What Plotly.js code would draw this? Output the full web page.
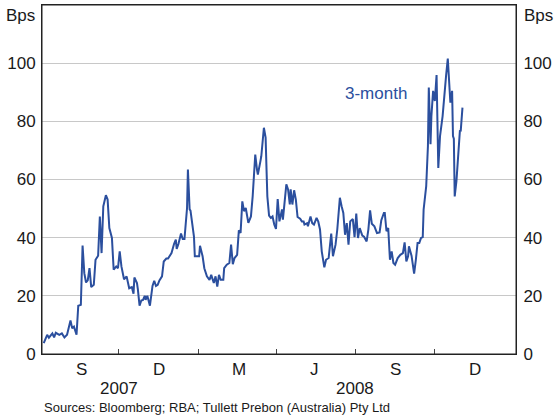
<!DOCTYPE html>
<html>
<head>
<meta charset="utf-8">
<script src="https://cdn.plot.ly/plotly-3.0.1.min.js"></script>
<style>html,body{margin:0;padding:0;background:#fff;}#chart{width:558px;height:418px;}</style>
</head>
<body>
<div id="chart"></div>
<script>
// 3-month spread, basis points
var dates = [
"2007-07-06","2007-07-10","2007-07-12","2007-07-16","2007-07-18","2007-07-20","2007-07-24","2007-07-27","2007-07-30","2007-08-02",
"2007-08-06","2007-08-08","2007-08-10","2007-08-13","2007-08-15","2007-08-18","2007-08-20","2007-08-22","2007-08-24","2007-08-26",
"2007-08-28","2007-08-30","2007-09-02","2007-09-04","2007-09-07","2007-09-09","2007-09-11","2007-09-13","2007-09-16","2007-09-18",
"2007-09-20","2007-09-23","2007-09-25","2007-09-28","2007-09-30","2007-10-02","2007-10-04","2007-10-07","2007-10-10","2007-10-13",
"2007-10-16","2007-10-18","2007-10-19","2007-10-22","2007-10-23","2007-10-25","2007-10-27","2007-10-29","2007-10-31","2007-11-01",
"2007-11-03","2007-11-06","2007-11-09","2007-11-11","2007-11-13","2007-11-15","2007-11-17","2007-11-20","2007-11-22","2007-11-25",
"2007-11-27","2007-11-29","2007-12-01","2007-12-04","2007-12-06","2007-12-07","2007-12-09","2007-12-12","2007-12-14","2007-12-16",
"2007-12-18","2007-12-19","2007-12-20","2007-12-22","2007-12-23","2007-12-25","2007-12-27","2007-12-28","2007-12-30","2008-01-02",
"2008-01-03","2008-01-06","2008-01-08","2008-01-11","2008-01-14","2008-01-16","2008-01-19","2008-01-21","2008-01-23","2008-01-25",
"2008-01-27","2008-01-30","2008-01-31","2008-02-03","2008-02-06","2008-02-08","2008-02-10","2008-02-12","2008-02-15","2008-02-17",
"2008-02-19","2008-02-21","2008-02-23","2008-02-25","2008-02-28","2008-03-02","2008-03-04","2008-03-07","2008-03-09","2008-03-10",
"2008-03-13","2008-03-14","2008-03-17","2008-03-19","2008-03-20","2008-03-21","2008-03-23","2008-03-25","2008-03-27","2008-03-29",
"2008-03-31","2008-04-02","2008-04-04","2008-04-07","2008-04-08","2008-04-12","2008-04-14","2008-04-16","2008-04-17","2008-04-19",
"2008-04-21","2008-04-23","2008-04-25","2008-04-28","2008-04-30","2008-05-02","2008-05-03","2008-05-06","2008-05-07","2008-05-10",
"2008-05-12","2008-05-14","2008-05-17","2008-05-19","2008-05-21","2008-05-23","2008-05-26","2008-05-28","2008-05-31","2008-06-03",
"2008-06-05","2008-06-08","2008-06-10","2008-06-13","2008-06-15","2008-06-17","2008-06-19","2008-06-21","2008-06-23","2008-06-25",
"2008-06-28","2008-06-30","2008-07-02","2008-07-04","2008-07-06","2008-07-09","2008-07-11","2008-07-14","2008-07-16","2008-07-18",
"2008-07-20","2008-07-23","2008-07-26","2008-07-29","2008-07-31","2008-08-03","2008-08-04","2008-08-06","2008-08-08","2008-08-10",
"2008-08-12","2008-08-14","2008-08-16","2008-08-19","2008-08-22","2008-08-25","2008-08-27","2008-08-29","2008-08-31","2008-09-01",
"2008-09-04","2008-09-07","2008-09-09","2008-09-11","2008-09-13","2008-09-15","2008-09-17","2008-09-18","2008-09-21","2008-09-23",
"2008-09-24","2008-09-26","2008-09-27","2008-09-29","2008-10-01","2008-10-03","2008-10-05","2008-10-07","2008-10-10","2008-10-12",
"2008-10-14","2008-10-16","2008-10-18","2008-10-19","2008-10-21","2008-10-22","2008-10-23","2008-10-24","2008-10-26","2008-10-28",
"2008-10-30","2008-10-31","2008-11-02"
];
var spread = [
3.7,6.6,5.6,7.1,5.7,7.3,6.6,7.1,5.7,6.6,
11.5,8.8,9.4,6.6,16.6,16.9,37.3,27.8,24.6,25.3,
29.5,23.0,23.8,32.4,33.8,47.3,34.7,50.8,54.6,53.1,
43.3,39.9,29.0,30.1,29.5,35.3,30.1,25.7,26.7,22.6,
23.0,20.7,26.3,24.4,22.3,16.6,18.4,18.6,20.0,18.6,
20.0,16.6,23.4,25.2,23.4,23.8,25.3,26.7,31.8,32.8,
32.8,33.8,34.7,37.9,39.3,36.1,37.8,41.4,39.5,39.5,
47.9,50.2,63.4,49.7,49.3,44.5,40.4,33.6,33.6,33.6,
37.2,33.6,29.5,26.7,25.5,27.2,24.4,26.7,23.2,27.2,
25.5,25.5,29.5,30.7,31.3,37.6,30.9,33.0,34.1,42.5,
41.6,52.5,49.1,50.2,45.1,47.3,54.2,68.6,63.4,61.7,
66.3,68.0,77.8,74.4,64.0,54.2,47.6,46.8,47.3,44.5,
43.0,53.3,45.6,49.7,46.2,58.3,56.6,51.4,56.6,51.4,
56.3,53.1,47.1,46.5,45.6,45.6,44.5,45.0,43.9,47.3,
45.0,44.5,46.8,45.5,42.8,35.3,29.8,32.4,33.0,41.4,
33.6,37.6,42.8,53.7,50.8,48.5,41.0,45.0,37.6,45.6,
46.4,40.2,48.3,39.9,43.3,40.7,40.3,38.7,42.8,49.4,
44.8,43.9,41.6,41.8,46.0,48.5,48.5,42.2,43.3,32.4,
35.3,31.3,30.7,33.0,34.1,34.7,38.4,31.8,33.6,37.0,
33.8,27.6,32.4,38.2,38.2,39.9,40.2,49.7,57.7,71.5,
91.6,72.1,81.8,90.5,87.0,95.9,64.0,74.9,81.8,89.9,
95.6,101.6,88.7,86.4,90.5,74.9,74.0,54.2,59.4,70.3,
76.7,76.8,84.7
];
var yTicks = [0, 20, 40, 60, 80, 100];
var quarterBounds = ["2007-10-01", "2008-01-01", "2008-04-01", "2008-07-01", "2008-10-01"];
var monthLabels = ["S", "D", "M", "J", "S", "D"];
var monthLabelDates = ["2007-08-19", "2007-11-16", "2008-02-17", "2008-05-15", "2008-08-16", "2008-11-16"];
var yearLabels = ["2007", "2008"];
var yearLabelDates = ["2007-10-01", "2008-07-01"];
var seriesName = "3-month";
var seriesLabelPos = ["2008-07-25", 89.5];
var unitLabel = "Bps";
var sourceText = "Sources: Bloomberg; RBA; Tullett Prebon (Australia) Pty Ltd";

var FONT = "Liberation Sans, Arial, sans-serif";
var LINE = "#2b4f9e";
var TXT = "#1a1a1a";
var AXIS = "#222";

var annotations = [];
monthLabels.forEach(function (m, i) {
  annotations.push({xref: "x", yref: "paper", x: monthLabelDates[i], y: -0.043, text: m,
    showarrow: false, xanchor: "center", yanchor: "middle", font: {family: FONT, size: 17, color: TXT}});
});
yearLabels.forEach(function (yl, i) {
  annotations.push({xref: "x", yref: "paper", x: yearLabelDates[i], y: -0.100, text: yl,
    showarrow: false, xanchor: "center", yanchor: "middle", font: {family: FONT, size: 17, color: TXT}});
});
annotations.push({xref: "paper", yref: "paper", x: 0, y: 0.971, xshift: -5, text: unitLabel,
  showarrow: false, xanchor: "right", yanchor: "middle", font: {family: FONT, size: 17, color: TXT}});
annotations.push({xref: "paper", yref: "paper", x: 1, y: 0.971, xshift: 6, text: unitLabel,
  showarrow: false, xanchor: "left", yanchor: "middle", font: {family: FONT, size: 17, color: TXT}});
annotations.push({xref: "x", yref: "y", x: seriesLabelPos[0], y: seriesLabelPos[1], text: seriesName,
  showarrow: false, xanchor: "center", yanchor: "middle", font: {family: FONT, size: 17, color: LINE}});
annotations.push({xref: "paper", yref: "paper", x: 0, y: -0.152, text: sourceText,
  showarrow: false, xanchor: "left", yanchor: "middle", font: {family: FONT, size: 13, color: TXT}});

var trace = {
  x: dates, y: spread, type: "scatter", mode: "lines",
  line: {color: LINE, width: 2}, hoverinfo: "skip", showlegend: false
};
// same series attached to the right-hand axis (invisible) so that axis is drawn
var traceRight = {
  x: dates, y: spread, type: "scatter", mode: "lines", yaxis: "y2",
  line: {color: LINE, width: 0}, opacity: 0, hoverinfo: "skip", showlegend: false
};

var layout = {
  width: 558, height: 418,
  margin: {l: 42, r: 42, t: 5, b: 64, pad: 0},
  paper_bgcolor: "#fff", plot_bgcolor: "#fff",
  showlegend: false,
  xaxis: {
    type: "date", range: ["2007-07-04", "2009-01-03"],
    tickmode: "array", tickvals: quarterBounds, ticktext: quarterBounds.map(function () { return ""; }),
    ticks: "inside", ticklen: 5, tickcolor: "#444", tickwidth: 1,
    showgrid: false, zeroline: false,
    showline: true, linecolor: AXIS, linewidth: 1, mirror: true,
    fixedrange: true
  },
  yaxis: {
    range: [0, 120], tickmode: "array", tickvals: yTicks,
    ticks: "", showgrid: true, gridcolor: "#c8c8c8", gridwidth: 1,
    zeroline: false, showline: true, linecolor: AXIS, linewidth: 1, mirror: true,
    tickfont: {family: FONT, size: 17, color: TXT}, ticklabelstandoff: 2,
    fixedrange: true
  },
  yaxis2: {
    range: [0, 120], tickmode: "array", tickvals: yTicks,
    overlaying: "y", side: "right", ticks: "", showgrid: false,
    zeroline: false, showline: true, linecolor: AXIS, linewidth: 1,
    tickfont: {family: FONT, size: 17, color: TXT}, ticklabelstandoff: 3,
    fixedrange: true
  },
  shapes: [{type: "rect", xref: "paper", yref: "paper", x0: 0, x1: 1, y0: 0, y1: 1,
    line: {color: AXIS, width: 1}, fillcolor: "rgba(0,0,0,0)", layer: "above"}],
  annotations: annotations
};

Plotly.newPlot("chart", [trace, traceRight], layout, {displayModeBar: false, staticPlot: true});
</script>
</body>
</html>
